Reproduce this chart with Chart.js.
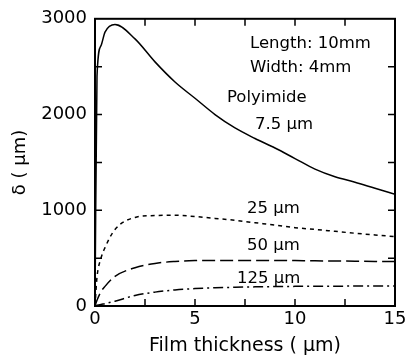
<!DOCTYPE html>
<html>
<head>
<meta charset="utf-8">
<script src="https://cdn.jsdelivr.net/npm/chart.js@4/dist/chart.umd.min.js"></script>
<style>
  html, body { margin: 0; padding: 0; background: #fff; }
  #wrap { width: 410px; height: 361px; }
</style>
</head>
<body>
<div id="wrap"><canvas id="chart" width="410" height="361"></canvas></div>
<script>
// Film thickness (um) sample positions shared by all curves
const thickness = [0, 0.1, 0.3, 0.5, 1, 2, 3, 4, 5, 6, 7, 8, 9, 10, 11, 12, 13, 14, 15];

// delta (um) for each polyimide substrate thickness
const poly7_5 = [0, 2400, 2720, 2860, 2940, 2790, 2550, 2340, 2170, 2000, 1860, 1750, 1650, 1540, 1430, 1350, 1293, 1230, 1168];
const poly25  = [0, 300, 500, 610, 800, 925, 945, 948, 935, 915, 895, 870, 845, 818, 800, 780, 760, 742, 725];
const poly50  = [0, 60, 150, 205, 310, 400, 445, 465, 474, 476, 476, 476, 475, 474, 472, 470, 468, 466, 464];
const poly125 = [0, 7, 17, 25, 50, 110, 145, 168, 182, 190, 196, 200, 203, 205, 206, 207, 208, 208, 209];

const xTicks = [0, 5, 10, 15];
const yTicks = [0, 1000, 2000, 3000];

const FONT = 'DejaVu Sans';

function pts(values) {
    return thickness.map((t, i) => ({ x: t, y: values[i] }));
}

function series(label, values, dash) {
    return {
        label: label,
        data: pts(values),
        borderColor: '#000',
        borderWidth: 1.5,
        borderDash: dash,
        pointRadius: 0,
        fill: false,
        cubicInterpolationMode: 'monotone'
    };
}

// Box frame, inward ticks and curve labels
const framePlugin = {
    id: 'frame',
    afterDraw(chart) {
        const ctx = chart.ctx;
        const xs = chart.scales.x;
        const ys = chart.scales.y;
        const a = chart.chartArea;
        ctx.save();
        ctx.strokeStyle = '#000';
        ctx.lineWidth = 2;
        ctx.strokeRect(a.left, a.top, a.right - a.left, a.bottom - a.top);

        const len = 7;
        ctx.lineWidth = 1.5;
        ctx.beginPath();
        for (let v = 2.5; v < 15; v += 2.5) {
            const px = xs.getPixelForValue(v);
            ctx.moveTo(px, a.bottom); ctx.lineTo(px, a.bottom - len);
            ctx.moveTo(px, a.top); ctx.lineTo(px, a.top + len);
        }
        for (let v = 500; v < 3000; v += 500) {
            const py = ys.getPixelForValue(v);
            ctx.moveTo(a.left, py); ctx.lineTo(a.left + len, py);
            ctx.moveTo(a.right, py); ctx.lineTo(a.right - len, py);
        }
        ctx.stroke();

        ctx.fillStyle = '#000';
        ctx.font = '16.5px "' + FONT + '"';
        ctx.textBaseline = 'middle';
        ctx.textAlign = 'left';
        const notes = [
            ['Length: 10mm', 7.75, 2742],
            ['Width: 4mm', 7.75, 2485],
            ['Polyimide', 6.6, 2175],
            ['7.5 μm', 8.0, 1897],
            ['25 μm', 7.6, 1020],
            ['50 μm', 7.6, 629],
            ['125 μm', 7.1, 289]
        ];
        notes.forEach(([txt, x, y]) => {
            ctx.fillText(txt, xs.getPixelForValue(x), ys.getPixelForValue(y));
        });
        ctx.restore();
    }
};

new Chart(document.getElementById('chart').getContext('2d'), {
    type: 'line',
    data: {
        datasets: [
            series('7.5 μm', poly7_5, []),
            series('25 μm', poly25, [4, 4]),
            series('50 μm', poly50, [13, 5]),
            series('125 μm', poly125, [10, 4, 2, 4])
        ]
    },
    options: {
        responsive: false,
        animation: false,
        layout: { padding: { top: 15, right: 15, left: 0, bottom: 0 } },
        plugins: {
            legend: { display: false },
            tooltip: { enabled: false }
        },
        scales: {
            x: {
                type: 'linear',
                min: 0,
                max: 15,
                afterFit(scale) { scale.height = 55; },
                afterBuildTicks(scale) { scale.ticks = xTicks.map(v => ({ value: v })); },
                grid: { display: false, drawTicks: false },
                border: { display: false },
                ticks: {
                    color: '#000',
                    padding: 3,
                    maxRotation: 0,
                    font: { family: FONT, size: 18 },
                    callback: v => String(v)
                },
                title: {
                    display: true,
                    text: 'Film thickness ( μm)',
                    color: '#000',
                    font: { family: FONT, size: 19 },
                    padding: { top: 0, bottom: 4 }
                }
            },
            y: {
                type: 'linear',
                min: 0,
                max: 3000,
                afterFit(scale) { scale.width = 95; },
                afterBuildTicks(scale) { scale.ticks = yTicks.map(v => ({ value: v })); },
                grid: { display: false, drawTicks: false },
                border: { display: false },
                ticks: {
                    color: '#000',
                    padding: 8,
                    font: { family: FONT, size: 18 },
                    callback: v => String(v)
                },
                title: {
                    display: true,
                    text: 'δ ( μm)',
                    color: '#000',
                    font: { family: FONT, size: 18 },
                    padding: { top: 10, bottom: 0 }
                }
            }
        }
    },
    plugins: [framePlugin]
});
</script>
</body>
</html>
